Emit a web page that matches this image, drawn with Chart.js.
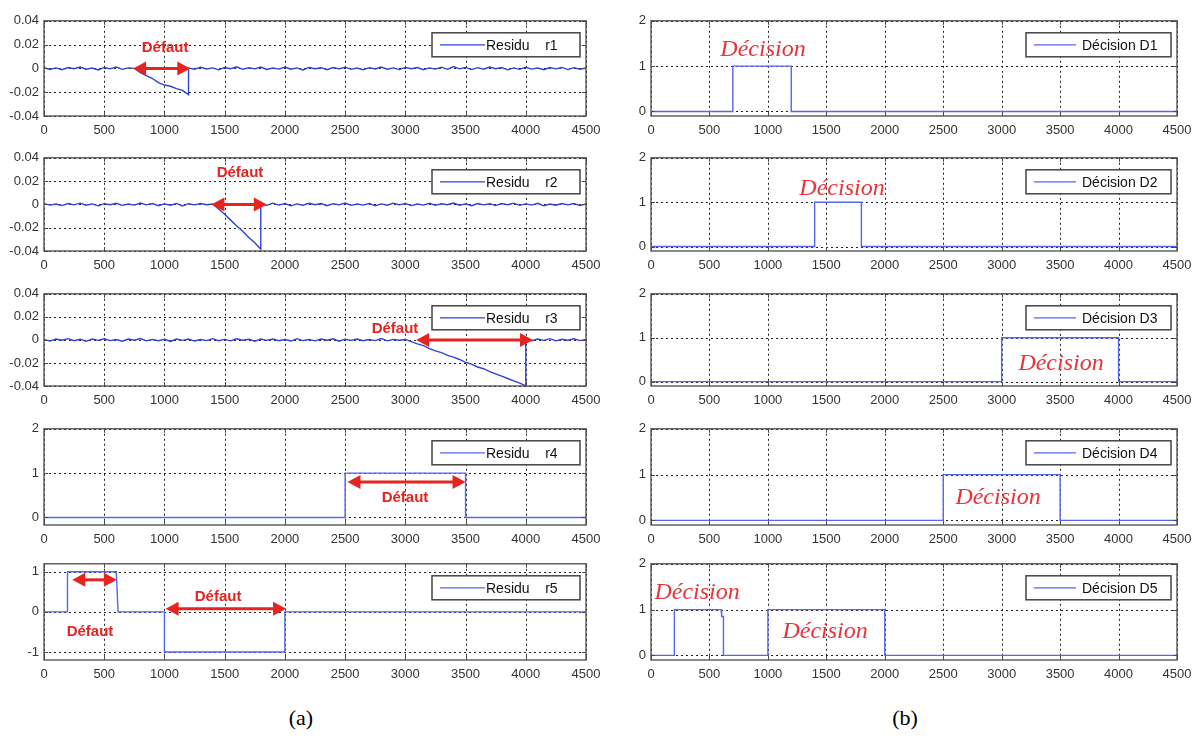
<!DOCTYPE html>
<html>
<head>
<meta charset="utf-8">
<script src="https://cdn.jsdelivr.net/npm/chart.js@4.4.0/dist/chart.umd.min.js"></script>
<style>
  body { margin: 0; background: #fff; width: 1203px; height: 749px; position: relative; overflow: hidden; }
  canvas { position: absolute; }
  .cap { position: absolute; top: 705px; width: 100px; text-align: center; font: 22px "Liberation Serif", serif; color: #000; }
</style>
</head>
<body>
<div class="cap" style="left:251px">(a)</div>
<div class="cap" style="left:855px">(b)</div>
<script>
// ---- data ----
const xTicks = [0, 500, 1000, 1500, 2000, 2500, 3000, 3500, 4000, 4500];
const residuTicks = [-0.04, -0.02, 0, 0.02, 0.04];
const stepTicks = [0, 1, 2];
const r5Ticks = [-1, 0, 1];

// residuals r1..r3 : [sample, value]
const r1 = [[0,0.0006],[50,-0.0009],[100,0.0004],[150,-0.0011],[200,0.0007],[250,-0.0003],[300,0.0012],[350,-0.0007],[400,0.0003],[450,-0.0013],[500,0.0008],[550,-0.0004],[600,0.0011],[650,-0.0008],[700,0.0004],
  [750,0.0000],[800,-0.0035],[850,-0.0060],[900,-0.0085],[950,-0.0120],[1000,-0.0140],[1050,-0.0150],[1100,-0.0170],[1150,-0.0185],[1200,-0.0220],[1200,0.0002],
  [1250,-0.0007],[1300,0.0010],[1350,-0.0005],[1400,0.0004],[1450,-0.0012],[1500,0.0007],[1550,-0.0003],[1600,0.0013],[1650,-0.0008],[1700,0.0005],[1750,-0.0004],[1800,0.0011],[1850,-0.0009],[1900,0.0003],[1950,-0.0006],[2000,0.0012],[2050,-0.0007],[2100,0.0004],[2150,-0.0013],[2200,0.0008],[2250,-0.0003],[2300,0.0006],[2350,-0.0011],[2400,0.0007],[2450,-0.0004],[2500,0.0010],[2550,-0.0008],[2600,0.0003],[2650,-0.0012],[2700,0.0006],[2750,-0.0005],[2800,0.0011],[2850,-0.0007],[2900,0.0004],[2950,-0.0010],[3000,0.0008],[3050,-0.0003],[3100,0.0007],[3150,-0.0011],[3200,0.0004],[3250,-0.0006],[3300,0.0010],[3350,-0.0008],[3400,0.0015],[3450,-0.0004],[3500,0.0008],[3550,-0.0010],[3600,0.0006],[3650,-0.0007],[3700,0.0011],[3750,-0.0003],[3800,0.0007],[3850,-0.0012],[3900,0.0004],[3950,-0.0008],[4000,0.0010],[4050,-0.0006],[4100,0.0003],[4150,-0.0011],[4200,0.0007],[4250,-0.0004],[4300,0.0008],[4350,-0.0010],[4400,0.0006],[4450,-0.0007],[4500,0.0003]];

const r2 = [[0,0.0007],[50,-0.0006],[100,0.0003],[150,-0.0010],[200,0.0008],[250,-0.0004],[300,0.0011],[350,-0.0007],[400,0.0004],[450,-0.0012],[500,0.0006],[550,-0.0003],[600,0.0010],[650,-0.0008],[700,0.0003],[750,-0.0006],[800,0.0012],[850,-0.0004],[900,0.0007],[950,-0.0011],[1000,0.0004],[1050,-0.0007],[1100,0.0008],[1150,-0.0013],[1200,0.0006],[1250,-0.0004],[1300,0.0007],[1350,-0.0003],
  [1400,0.0004],[1450,-0.0040],[1500,-0.0085],[1550,-0.0135],[1600,-0.0185],[1650,-0.0230],[1700,-0.0285],[1750,-0.0330],[1800,-0.0385],[1800,0.0003],
  [1850,-0.0008],[1900,0.0011],[1950,-0.0006],[2000,0.0007],[2050,-0.0012],[2100,0.0004],[2150,-0.0007],[2200,0.0010],[2250,-0.0003],[2300,0.0008],[2350,-0.0011],[2400,0.0006],[2450,-0.0004],[2500,0.0012],[2550,-0.0008],[2600,0.0003],[2650,-0.0006],[2700,0.0008],[2750,-0.0012],[2800,0.0004],[2850,-0.0007],[2900,0.0011],[2950,-0.0004],[3000,0.0007],[3050,-0.0010],[3100,0.0003],[3150,-0.0006],[3200,0.0010],[3250,-0.0008],[3300,0.0006],[3350,-0.0003],[3400,0.0012],[3450,-0.0007],[3500,0.0004],[3550,-0.0011],[3600,0.0008],[3650,-0.0004],[3700,0.0006],[3750,-0.0010],[3800,0.0007],[3850,-0.0003],[3900,0.0011],[3950,-0.0008],[4000,0.0004],[4050,-0.0006],[4100,0.0010],[4150,-0.0012],[4200,0.0003],[4250,-0.0007],[4300,0.0008],[4350,-0.0004],[4400,0.0007],[4450,-0.0010],[4500,0.0004]];

const r3 = [[0,0.0004],[50,-0.0010],[100,0.0007],[150,-0.0003],[200,0.0011],[250,-0.0007],[300,0.0006],[350,-0.0012],[400,0.0008],[450,-0.0004],[500,0.0010],[550,-0.0006],[600,0.0003],[650,-0.0011],[700,0.0007],[750,-0.0003],[800,0.0012],[850,-0.0008],[900,0.0004],[950,-0.0007],[1000,0.0006],[1050,-0.0013],[1100,0.0008],[1150,-0.0004],[1200,0.0007],[1250,-0.0010],[1300,0.0003],[1350,-0.0006],[1400,0.0011],[1450,-0.0007],[1500,0.0004],[1550,-0.0008],[1600,0.0010],[1650,-0.0003],[1700,0.0006],[1750,-0.0012],[1800,0.0007],[1850,-0.0004],[1900,0.0008],[1950,-0.0007],[2000,0.0003],[2050,-0.0010],[2100,0.0011],[2150,-0.0006],[2200,0.0004],[2250,-0.0008],[2300,0.0007],[2350,-0.0003],[2400,0.0010],[2450,-0.0011],[2500,0.0006],[2550,-0.0004],[2600,0.0008],[2650,-0.0007],[2700,0.0003],[2750,-0.0006],[2800,0.0012],[2850,-0.0008],[2900,0.0004],[2950,-0.0003],
  [3000,0.0004],[3050,-0.0015],[3100,-0.0035],[3150,-0.0050],[3200,-0.0075],[3250,-0.0095],[3300,-0.0110],[3350,-0.0135],[3400,-0.0150],[3450,-0.0170],[3500,-0.0195],[3550,-0.0210],[3600,-0.0235],[3650,-0.0250],[3700,-0.0275],[3750,-0.0295],[3800,-0.0315],[3850,-0.0335],[3900,-0.0355],[3950,-0.0375],[4000,-0.0398],[4000,0.0002],
  [4050,-0.0007],[4100,0.0008],[4150,-0.0004],[4200,0.0011],[4250,-0.0008],[4300,0.0006],[4350,-0.0003],[4400,0.0010],[4450,-0.0006],[4500,0.0004]];

// step signals
const r4X = [0, 2500, 2500, 3500, 3500, 4500];
const r4Y = [0, 0, 1, 1, 0, 0];
const r5X = [0, 195, 195, 600, 615, 1000, 1000, 2000, 2000, 4500];
const r5Y = [0, 0, 1, 1, 0, 0, -1, -1, 0, 0];
const d1X = [0, 700, 700, 1200, 1200, 4500];
const d1Y = [0, 0, 1, 1, 0, 0];
const d2X = [0, 1400, 1400, 1800, 1800, 4500];
const d2Y = [0, 0, 1, 1, 0, 0];
const d3X = [0, 3000, 3000, 4000, 4000, 4500];
const d3Y = [0, 0, 1, 1, 0, 0];
const d4X = [0, 2500, 2500, 3500, 3500, 4500];
const d4Y = [0, 0, 1, 1, 0, 0];
const d5X = [0, 200, 200, 600, 605, 620, 620, 1000, 1000, 2000, 2000, 4500];
const d5Y = [0, 0, 1, 1, 0.85, 0.85, 0, 0, 1, 1, 0, 0];

// annotations (data coordinates): arrows [from, to, y], labels [x, y]
const faultArrows = {
  r1: [[740, 1215, 0]],
  r2: [[1390, 1850, 0]],
  r3: [[3090, 4060, 0]],
  r4: [[2520, 3500, 0.8]],
  r5: [[235, 605, 0.8], [1010, 2010, 0.08]]
};
const faultLabels = {
  r1: [[1005, 0.017]],
  r2: [[1627, 0.027]],
  r3: [[2914, 0.010]],
  r4: [[2997, 0.45]],
  r5: [[382, -0.5], [1445, 0.38]]
};
const decisionLabels = {
  D1: [[958, 1.36]],
  D2: [[1634, 1.30]],
  D3: [[3508, 0.40]],
  D4: [[2969, 0.49]],
  D5: [[394, 1.38], [1489, 0.51]]
};

// ---- layout ----
const rowTop = [18, 155, 291, 426, 561];
const rowBottom = [116, 251, 386, 525, 660];
const cols = [
  { left: 0, width: 608, axisW: 44, padRight: 22, legendW: 148, lineLen: 45, textOff: 54 },
  { left: 600, width: 603, axisW: 51, padRight: 26, legendW: 145, lineLen: 42, textOff: 56 }
];
const PAD_TOP = 10, X_AXIS_H = 26;
const RED = '#e5231f';
const SANS = "'Liberation Sans', Arial, sans-serif";

const pairs = (arr) => arr.map(p => ({ x: p[0], y: p[1] }));
const zip = (xs, ys) => xs.map((x, i) => ({ x: x, y: ys[i] }));

const panels = [
  { id: 'r1', col: 0, row: 0, label: 'Residu    r1', data: pairs(r1), yMin: -0.04, yMax: 0.04, yTicks: residuTicks, color: '#3142d8' },
  { id: 'r2', col: 0, row: 1, label: 'Residu    r2', data: pairs(r2), yMin: -0.04, yMax: 0.04, yTicks: residuTicks, color: '#3142d8' },
  { id: 'r3', col: 0, row: 2, label: 'Residu    r3', data: pairs(r3), yMin: -0.04, yMax: 0.04, yTicks: residuTicks, color: '#3142d8' },
  { id: 'r4', col: 0, row: 3, label: 'Residu    r4', data: zip(r4X, r4Y), yMin: -0.17, yMax: 2, yTicks: stepTicks, color: '#5566f0' },
  { id: 'r5', col: 0, row: 4, label: 'Residu    r5', data: zip(r5X, r5Y), yMin: -1.2, yMax: 1.2, yTicks: r5Ticks, color: '#5566f0' },
  { id: 'D1', col: 1, row: 0, label: 'Décision D1', data: zip(d1X, d1Y), yMin: -0.1, yMax: 2, yTicks: stepTicks, color: '#5566f0' },
  { id: 'D2', col: 1, row: 1, label: 'Décision D2', data: zip(d2X, d2Y), yMin: -0.1, yMax: 2, yTicks: stepTicks, color: '#5566f0' },
  { id: 'D3', col: 1, row: 2, label: 'Décision D3', data: zip(d3X, d3Y), yMin: -0.1, yMax: 2, yTicks: stepTicks, color: '#5566f0' },
  { id: 'D4', col: 1, row: 3, label: 'Décision D4', data: zip(d4X, d4Y), yMin: -0.1, yMax: 2, yTicks: stepTicks, color: '#5566f0' },
  { id: 'D5', col: 1, row: 4, label: 'Décision D5', data: zip(d5X, d5Y), yMin: -0.1, yMax: 2, yTicks: stepTicks, color: '#5566f0' }
];

function drawArrow(ctx, xa, xb, y) {
  const head = 13, half = 7;
  ctx.save();
  ctx.strokeStyle = RED;
  ctx.fillStyle = RED;
  ctx.lineWidth = 3;
  ctx.beginPath();
  ctx.moveTo(xa + head - 2, y);
  ctx.lineTo(xb - head + 2, y);
  ctx.stroke();
  ctx.beginPath();
  ctx.moveTo(xa, y); ctx.lineTo(xa + head, y - half); ctx.lineTo(xa + head, y + half); ctx.closePath();
  ctx.fill();
  ctx.beginPath();
  ctx.moveTo(xb, y); ctx.lineTo(xb - head, y - half); ctx.lineTo(xb - head, y + half); ctx.closePath();
  ctx.fill();
  ctx.restore();
}

function makePanel(p) {
  const col = cols[p.col];
  const top = rowTop[p.row] - PAD_TOP;
  const height = PAD_TOP + (rowBottom[p.row] - rowTop[p.row]) + X_AXIS_H;
  const canvas = document.createElement('canvas');
  canvas.width = col.width;
  canvas.height = height;
  canvas.style.left = col.left + 'px';
  canvas.style.top = top + 'px';
  document.body.appendChild(canvas);

  const decor = {
    id: 'decor',
    beforeDatasetsDraw(chart) {
      // MATLAB style dotted grid
      const { ctx, chartArea: a } = chart;
      const xs = chart.scales.x, ys = chart.scales.y;
      ctx.save();
      ctx.strokeStyle = '#222';
      ctx.lineWidth = 1;
      ctx.setLineDash([2, 3]);
      ctx.beginPath();
      xTicks.forEach(v => {
        const px = Math.round(xs.getPixelForValue(v)) + 0.5;
        ctx.moveTo(px, a.top); ctx.lineTo(px, a.bottom);
      });
      p.yTicks.forEach(v => {
        const py = Math.round(ys.getPixelForValue(v)) + 0.5;
        ctx.moveTo(a.left, py); ctx.lineTo(a.right, py);
      });
      ctx.stroke();
      ctx.restore();
    },
    afterDatasetsDraw(chart) {
      const { ctx } = chart;
      const xs = chart.scales.x, ys = chart.scales.y;
      (faultArrows[p.id] || []).forEach(ar => {
        drawArrow(ctx, xs.getPixelForValue(ar[0]), xs.getPixelForValue(ar[1]), ys.getPixelForValue(ar[2]));
      });
      ctx.save();
      ctx.textAlign = 'center';
      ctx.textBaseline = 'middle';
      ctx.fillStyle = RED;
      ctx.font = 'bold 15px ' + SANS;
      (faultLabels[p.id] || []).forEach(l => {
        ctx.fillText('Défaut', xs.getPixelForValue(l[0]), ys.getPixelForValue(l[1]));
      });
      ctx.fillStyle = '#e8333b';
      ctx.font = 'italic 24px "Liberation Serif", "Times New Roman", serif';
      (decisionLabels[p.id] || []).forEach(l => {
        ctx.fillText('Décision', xs.getPixelForValue(l[0]), ys.getPixelForValue(l[1]));
      });
      ctx.restore();
    },
    afterDraw(chart) {
      const { ctx, chartArea: a } = chart;
      const xs = chart.scales.x, ys = chart.scales.y;
      ctx.save();
      // axes box and inward tick marks
      ctx.strokeStyle = '#4a4a4a';
      ctx.lineWidth = 1.3;
      ctx.strokeRect(a.left, a.top, a.right - a.left, a.bottom - a.top);
      ctx.lineWidth = 1;
      ctx.beginPath();
      xTicks.forEach(v => {
        const px = Math.round(xs.getPixelForValue(v)) + 0.5;
        ctx.moveTo(px, a.bottom); ctx.lineTo(px, a.bottom - 4);
        ctx.moveTo(px, a.top); ctx.lineTo(px, a.top + 4);
      });
      p.yTicks.forEach(v => {
        const py = Math.round(ys.getPixelForValue(v)) + 0.5;
        ctx.moveTo(a.left, py); ctx.lineTo(a.left + 4, py);
        ctx.moveTo(a.right, py); ctx.lineTo(a.right - 4, py);
      });
      ctx.stroke();
      // legend box
      const w = col.legendW, h = 24;
      const bx = a.right - 6 - w, by = a.top + 12;
      ctx.fillStyle = '#fff';
      ctx.fillRect(bx, by, w, h);
      ctx.strokeStyle = '#444';
      ctx.lineWidth = 1.5;
      ctx.strokeRect(bx, by, w, h);
      ctx.strokeStyle = p.color;
      ctx.lineWidth = 1.3;
      ctx.beginPath();
      ctx.moveTo(bx + 8, by + h / 2);
      ctx.lineTo(bx + 8 + col.lineLen, by + h / 2);
      ctx.stroke();
      ctx.fillStyle = '#111';
      ctx.font = '14px ' + SANS;
      ctx.textBaseline = 'middle';
      ctx.fillText(chart.data.datasets[0].label, bx + col.textOff, by + h / 2 + 1);
      ctx.restore();
    }
  };

  const tickFont = { family: SANS, size: 13 };
  new Chart(canvas, {
    type: 'line',
    data: {
      datasets: [{
        label: p.label,
        data: p.data,
        borderColor: p.color,
        borderWidth: 1.4,
        pointRadius: 0,
        tension: 0,
        fill: false
      }]
    },
    options: {
      animation: false,
      responsive: false,
      layout: { padding: { top: PAD_TOP, right: col.padRight, left: 0, bottom: 0 } },
      plugins: { legend: { display: false }, tooltip: { enabled: false } },
      scales: {
        x: {
          type: 'linear',
          min: 0,
          max: 4500,
          afterBuildTicks: s => { s.ticks = xTicks.map(v => ({ value: v })); },
          afterFit: s => { s.height = X_AXIS_H; },
          grid: { display: false, drawTicks: false },
          border: { display: false },
          ticks: { font: tickFont, color: '#333', padding: 7, maxRotation: 0, autoSkip: false, callback: v => String(v) }
        },
        y: {
          type: 'linear',
          min: p.yMin,
          max: p.yMax,
          afterBuildTicks: s => { s.ticks = p.yTicks.map(v => ({ value: v })); },
          afterFit: s => { s.width = col.axisW; },
          grid: { display: false, drawTicks: false },
          border: { display: false },
          ticks: { font: tickFont, color: '#333', padding: 5, callback: v => String(v) }
        }
      }
    },
    plugins: [decor]
  });
}

panels.forEach(makePanel);
</script>
</body>
</html>
